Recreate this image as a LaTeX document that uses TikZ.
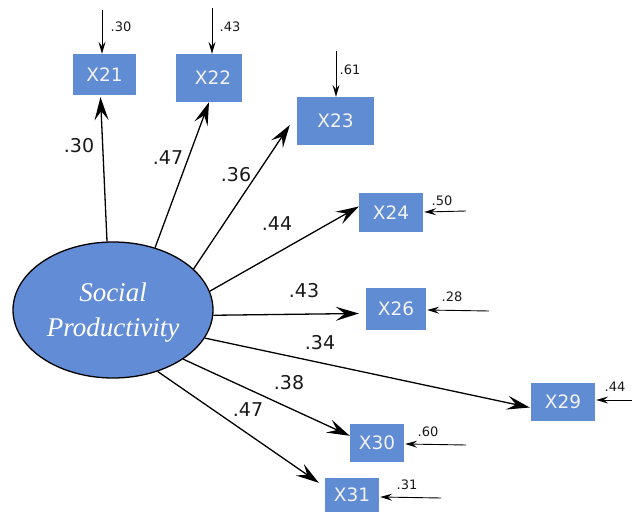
\documentclass[tikz,border=0pt]{standalone}
\usepackage{fontspec}
\setmainfont{DejaVu Sans}
\newfontfamily\serifit{Liberation Serif}
\usetikzlibrary{shapes.geometric,arrows.meta,calc}
\definecolor{boxblue}{RGB}{96,140,212}
\definecolor{ellblue}{RGB}{98,140,214}
\tikzset{
  obs/.style={rectangle, fill=boxblue, draw=none, inner sep=0pt, text=white!95!black, font=\fontsize{18.5}{18.5}\selectfont},
  lat/.style={ellipse, fill=ellblue, draw=black, line width=1.3pt, inner sep=0pt, minimum width=200pt, minimum height=136pt, text=white, align=center, font=\serifit\itshape\fontsize{27}{35}\selectfont},
  load/.style={line width=1.3pt, -{Stealth[length=23pt,width=14pt,inset=9pt]}},
  err/.style={line width=0.9pt, -{Stealth[length=12pt,width=7pt,inset=4.5pt]}},
  lbl/.style={font=\fontsize{19}{19}\selectfont, text=black!90, inner sep=0pt},
  slbl/.style={font=\fontsize{13}{13}\selectfont, text=black!90, inner sep=0pt}
}
\begin{document}
\begin{tikzpicture}[x=1pt,y=-1pt]
\useasboundingbox (0,0) rectangle (632,513);
% latent
\node[lat] (sp) at (113,310) {};
\node[text=white, align=center, font=\serifit\itshape\fontsize{27}{35}\selectfont, inner sep=0pt] (spt) at (113,313) {Social\\Productivity};
% observed
\node[obs, minimum width=63pt, minimum height=41pt] (x21) at (104.5,74.5) {X21};
\node[obs, minimum width=66pt, minimum height=48pt] (x22) at (209,78) {\hspace{8pt}X22};
\node[obs, minimum width=77pt, minimum height=48pt] (x23) at (335.5,121) {X23};
\node[obs, minimum width=64pt, minimum height=39pt] (x24) at (391,212.5) {X24};
\node[obs, minimum width=60pt, minimum height=42pt] (x26) at (396,309) {X26};
\node[obs, minimum width=64pt, minimum height=38pt] (x29) at (563,402) {X29};
\node[obs, minimum width=54pt, minimum height=38pt] (x30) at (377,443) {X30};
\node[obs, minimum width=54pt, minimum height=34pt] (x31) at (352,495) {X31};
% loadings
\draw[load] (sp.95.7) -- ($(x21.south)+(-4,2)$);
\draw[load] (sp.56) -- (x22.south);
\draw[load] (sp.27.7) -- ($(x23.west)+(-7,4)$);
\draw[load] (sp.11.6) -- ($(x24.west)+(0,-6)$);
\draw[load] (sp.-3.4) -- ($(x26.west)+(-7,4.5)$);
\draw[load] (sp.-17.7) -- ($(x29.west)+(-1,5.5)$);
\draw[load] (sp.-35.5) -- ($(x30.north west)+(0,12)$);
\draw[load] (sp.-54) -- ($(x31.north west)+(-6,5)$);
% loading labels
\node[lbl] (l21) at (79,146) {.30};
\node[lbl] (l22) at (168,158) {.47};
\node[lbl] (l23) at (236,175) {.36};
\node[lbl] (l24) at (277,224) {.44};
\node[lbl] (l26) at (304,291) {.43};
\node[lbl] (l29) at (320,343) {.34};
\node[lbl] (l30) at (289,383) {.38};
\node[lbl] (l31) at (248,410) {.47};
% error terms
\coordinate (e21) at ($(x21.north)+(-2.5,-44)$);
\coordinate (e22) at ($(x22.north)+(3,-46)$);
\coordinate (e23) at ($(x23.north)+(0.5,-46)$);
\coordinate (e24) at ($(x24.east)+(43,-1.5)$);
\coordinate (e26) at ($(x26.east)+(63,2)$);
\coordinate (e29) at ($(x29.east)+(37,-2)$);
\coordinate (e30) at ($(x30.east)+(62,2)$);
\coordinate (e31) at ($(x31.east)+(62,3)$);
\draw[err] (e21) -- ($(x21.north)+(-2.5,0)$);
\draw[err] (e22) -- ($(x22.north)+(3,0)$);
\draw[err] (e23) -- ($(x23.north)+(0.5,0)$);
\draw[err] (e24) -- ($(x24.east)+(1,-0.5)$);
\draw[err] (e26) -- ($(x26.east)+(1,1)$);
\draw[err] (e29) -- ($(x29.east)+(1,-2)$);
\draw[err] (e30) -- ($(x30.east)+(1,1)$);
\draw[err] (e31) -- ($(x31.east)+(1,2)$);
\node[slbl] (s21) at (121,27) {.30};
\node[slbl] (s22) at (230,27) {.43};
\node[slbl] (s23) at (350,70) {.61};
\node[slbl] (s24) at (442,201) {.50};
\node[slbl] (s26) at (452,297) {.28};
\node[slbl] (s29) at (615,387) {.44};
\node[slbl] (s30) at (428,432) {.60};
\node[slbl] (s31) at (407,485) {.31};
\end{tikzpicture}
\end{document}
